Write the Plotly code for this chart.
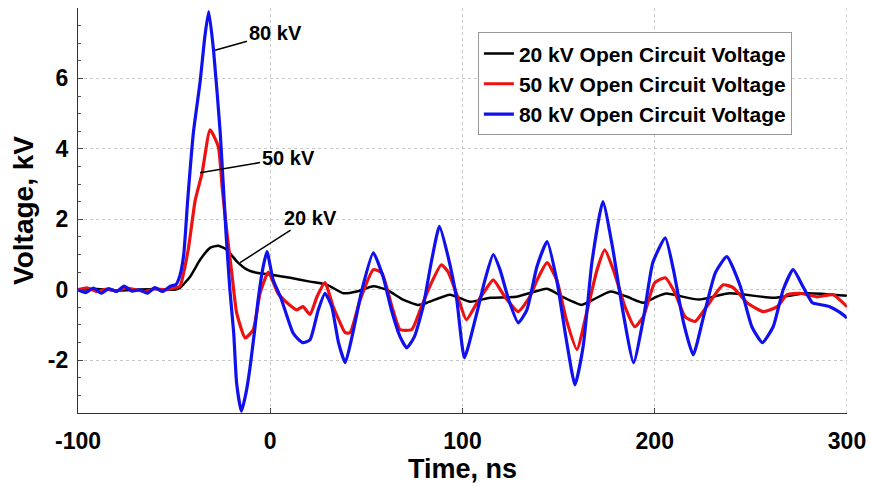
import plotly.graph_objects as go

# ---- data ----
t_20kv = [-100, -90, -80, -70, -60, -50, -47, -41.7, -36.5, -31.3, -27, -22.5, -17.3, -12, -7, 0,
          10.4, 20.7, 29.6, 38, 45, 53.6, 60.6, 69, 76.8, 81.5, 93.5, 104, 114.3, 128, 144, 152,
          162, 168, 177, 185.7, 194, 201, 206, 223, 239, 261.6, 279, 300]
v_20kv = [0, 0.02, -0.02, 0.0, 0.02, 0.0, 0.05, 0.37, 0.85, 1.19, 1.25, 1.13, 0.8, 0.57, 0.48, 0.43,
          0.34, 0.23, 0.14, -0.1, -0.05, 0.1, 0.0, -0.28, -0.43, -0.37, -0.14, -0.34, -0.23, -0.2, 0.03, -0.2,
          -0.43, -0.28, -0.05, -0.2, -0.37, -0.2, -0.11, -0.28, -0.1, -0.23, -0.1, -0.17]

t_50kv = [-100, -95, -90, -85, -80, -75, -70, -65, -60, -55, -50, -47, -42.7, -39, -35.5, -31.3, -27,
          -25, -22.5, -20, -17.5, -13, -8.8, -5.3, -1, 4, 8.7, 13.8, 17, 20.7, 24.3, 28.5, 32.7, 36, 39,
          41.5, 46.8, 53.6, 58, 63.3, 67.5, 73.6, 78, 83, 89, 92.5, 97.5, 102, 107.5, 112, 116, 122, 129,
          135, 139, 144, 149, 154, 159.5, 164.6, 170, 174, 179, 184.5, 189.6, 194, 200, 205.5, 210.6,
          215.8, 221, 227, 235.6, 240.8, 248, 256.5, 263.7, 268.8, 275.6, 284.5, 292.8, 300]
v_50kv = [0.0, 0.05, -0.05, 0.02, -0.03, 0.05, 0.0, -0.05, 0.03, 0.0, 0.05, 0.1, 1.13, 2.55, 3.3, 4.54, 4.06,
          2.9, 1.6, 0.48, -0.65, -1.37, -1.13, -0.1, 0.5, -0.1, -0.37, -0.57, -0.48, -0.7, -0.2, 0.2, -0.48, -0.9, -1.22,
          -1.22, -0.28, 0.57, 0.48, -0.48, -1.13, -1.13, -0.57, 0.1, 0.71, 0.51, -0.2, -0.85, -0.37, 0.0, 0.28, -0.2, -0.62,
          -0.2, 0.3, 0.77, 0.28, -0.85, -1.7, -0.65, 0.57, 1.13, 0.48, -0.48, -1.05, -0.77, 0.2, 0.34, -0.1,
          -0.77, -0.9, -0.48, 0.14, 0.06, -0.37, -0.62, -0.48, -0.14, -0.1, -0.2, -0.14, -0.48]

t_80kv = [-100, -96, -92, -88, -84, -80, -76, -72, -68, -64, -60, -56, -52, -49, -47, -45, -43, -40, -36.5,
          -34, -32, -29.5, -26, -23, -21, -19, -17.5, -15, -12.5, -10.5, -8, -6.3, -3.7, -1.7, 1.5, 5.3, 8.7,
          11.8, 14.5, 17, 20.7, 25, 28.5, 32, 35.5, 39, 43, 47.7, 53.6, 58.7, 63, 67.5, 71, 75, 79.5, 84, 88,
          92.5, 97, 101, 107.5, 111.7, 116, 119.5, 124, 129, 133.5, 138.7, 144, 149, 154, 158.5, 162.8, 167.3,
          173, 178, 183, 189, 194, 199, 205.5, 209.7, 215, 220, 225, 231.5, 237.5, 244.5, 250.5, 256, 261.6,
          266.8, 272, 277, 282, 286, 291, 296.5, 300]
v_80kv = [0.0, -0.08, 0.05, -0.1, 0.03, -0.05, 0.1, -0.04, 0.0, -0.1, 0.06, -0.05, 0.1, 0.15, 0.4, 1.0, 2.5, 4.45, 5.9,
          7.2, 7.9, 6.8, 4.45, 1.6, 0.0, -1.23, -2.65, -3.45, -2.9, -2.2, -1.1, -0.28, 0.65, 1.08, 0.28, -0.2, -0.75,
          -1.22, -1.4, -1.5, -1.42, -0.57, -0.1, -0.48, -1.5, -2.07, -1.22, 0.0, 1.05, 0.37, -0.57, -1.33, -1.65, -1.33, -0.48, 0.85, 1.8,
          0.94, -0.28, -1.93, -0.65, 0.28, 1.0, 0.57, -0.28, -0.94, -0.57, 0.65, 1.37, 0.28, -1.42, -2.7, -1.6, 0.77,
          2.5, 1.22, -0.48, -2.07, -0.85, 0.77, 1.47, 0.57, -0.94, -1.85, -0.85, 0.48, 0.94, 0.1, -1.05, -1.5, -1.05,
          0.0, 0.57, 0.1, -0.37, -0.42, -0.48, -0.65, -0.8]

series_names = ["20 kV Open Circuit Voltage", "50 kV Open Circuit Voltage", "80 kV Open Circuit Voltage"]
x_ticks = [-100, 0, 100, 200, 300]
y_ticks = [-2, 0, 2, 4, 6]

FONT = "Arial, Liberation Sans, sans-serif"

fig = go.Figure()
series = [(t_20kv, v_20kv, "#000000", 2.5),
          (t_50kv, v_50kv, "#ee1111", 3.2),
          (t_80kv, v_80kv, "#1111ee", 3.2)]
for (t, v, c, w), name in zip(series, series_names):
    fig.add_trace(go.Scatter(x=t, y=v, mode="lines", name="<b>%s</b>" % name,
                             line=dict(color=c, width=w, shape="spline", smoothing=0.5)))

# callout labels
labels = [("80 kV", -28.7, 6.8, 60, -17),
          ("50 kV", -36.5, 3.32, 88, -15),
          ("20 kV", -15.7, 0.77, 70, -45)]
for txt, x, y, ax, ay in labels:
    fig.add_annotation(x=x, y=y, ax=ax, ay=ay, text="<b>%s</b>" % txt, showarrow=True,
                       arrowhead=0, arrowwidth=1.5, arrowcolor="black",
                       font=dict(family=FONT, size=20, color="black"))

grid = dict(showgrid=True, gridcolor="#c8c8c8", griddash="dot", gridwidth=1)
fig.update_xaxes(range=[-100, 300], tickvals=x_ticks, ticktext=["<b>%d</b>" % v for v in x_ticks],
                 showline=True, linecolor="#333", linewidth=1.2, ticks="inside", ticklen=5,
                 ticklabelstandoff=7, automargin=False,
                 tickfont=dict(family=FONT, size=23, color="black"), zeroline=False,
                 title=dict(text="<b>Time, ns</b>", font=dict(family=FONT, size=27, color="black"),
                            standoff=6), **grid)
fig.update_yaxes(range=[-3.5, 8], tickvals=y_ticks, ticktext=["<b>%d</b>" % v for v in y_ticks],
                 showline=True, linecolor="#333", linewidth=1.2, ticks="inside", ticklen=5,
                 ticklabelstandoff=4, automargin=False,
                 minor=dict(dtick=0.5, ticks="inside", ticklen=3, showgrid=False, tickcolor="#555"),
                 tickfont=dict(family=FONT, size=23, color="black"), zeroline=False,
                 title=dict(text="<b>Voltage, kV</b>", font=dict(family=FONT, size=28, color="black"),
                            standoff=6), **grid)

fig.update_layout(
    width=871, height=491,
    margin=dict(l=78, r=24, t=8, b=78),
    plot_bgcolor="white", paper_bgcolor="white",
    showlegend=True,
    legend=dict(x=0.52, y=0.94, xanchor="left", yanchor="top",
                bgcolor="white", bordercolor="#999", borderwidth=1,
                font=dict(family=FONT, size=21, color="black"),
                itemwidth=30, tracegroupgap=0),
    shapes=[dict(type="line", xref="x", yref="paper", x0=300, x1=300, y0=0, y1=1,
                 line=dict(color="#bbb", width=1, dash="dot"))],
)

fig.write_html("out.html")
